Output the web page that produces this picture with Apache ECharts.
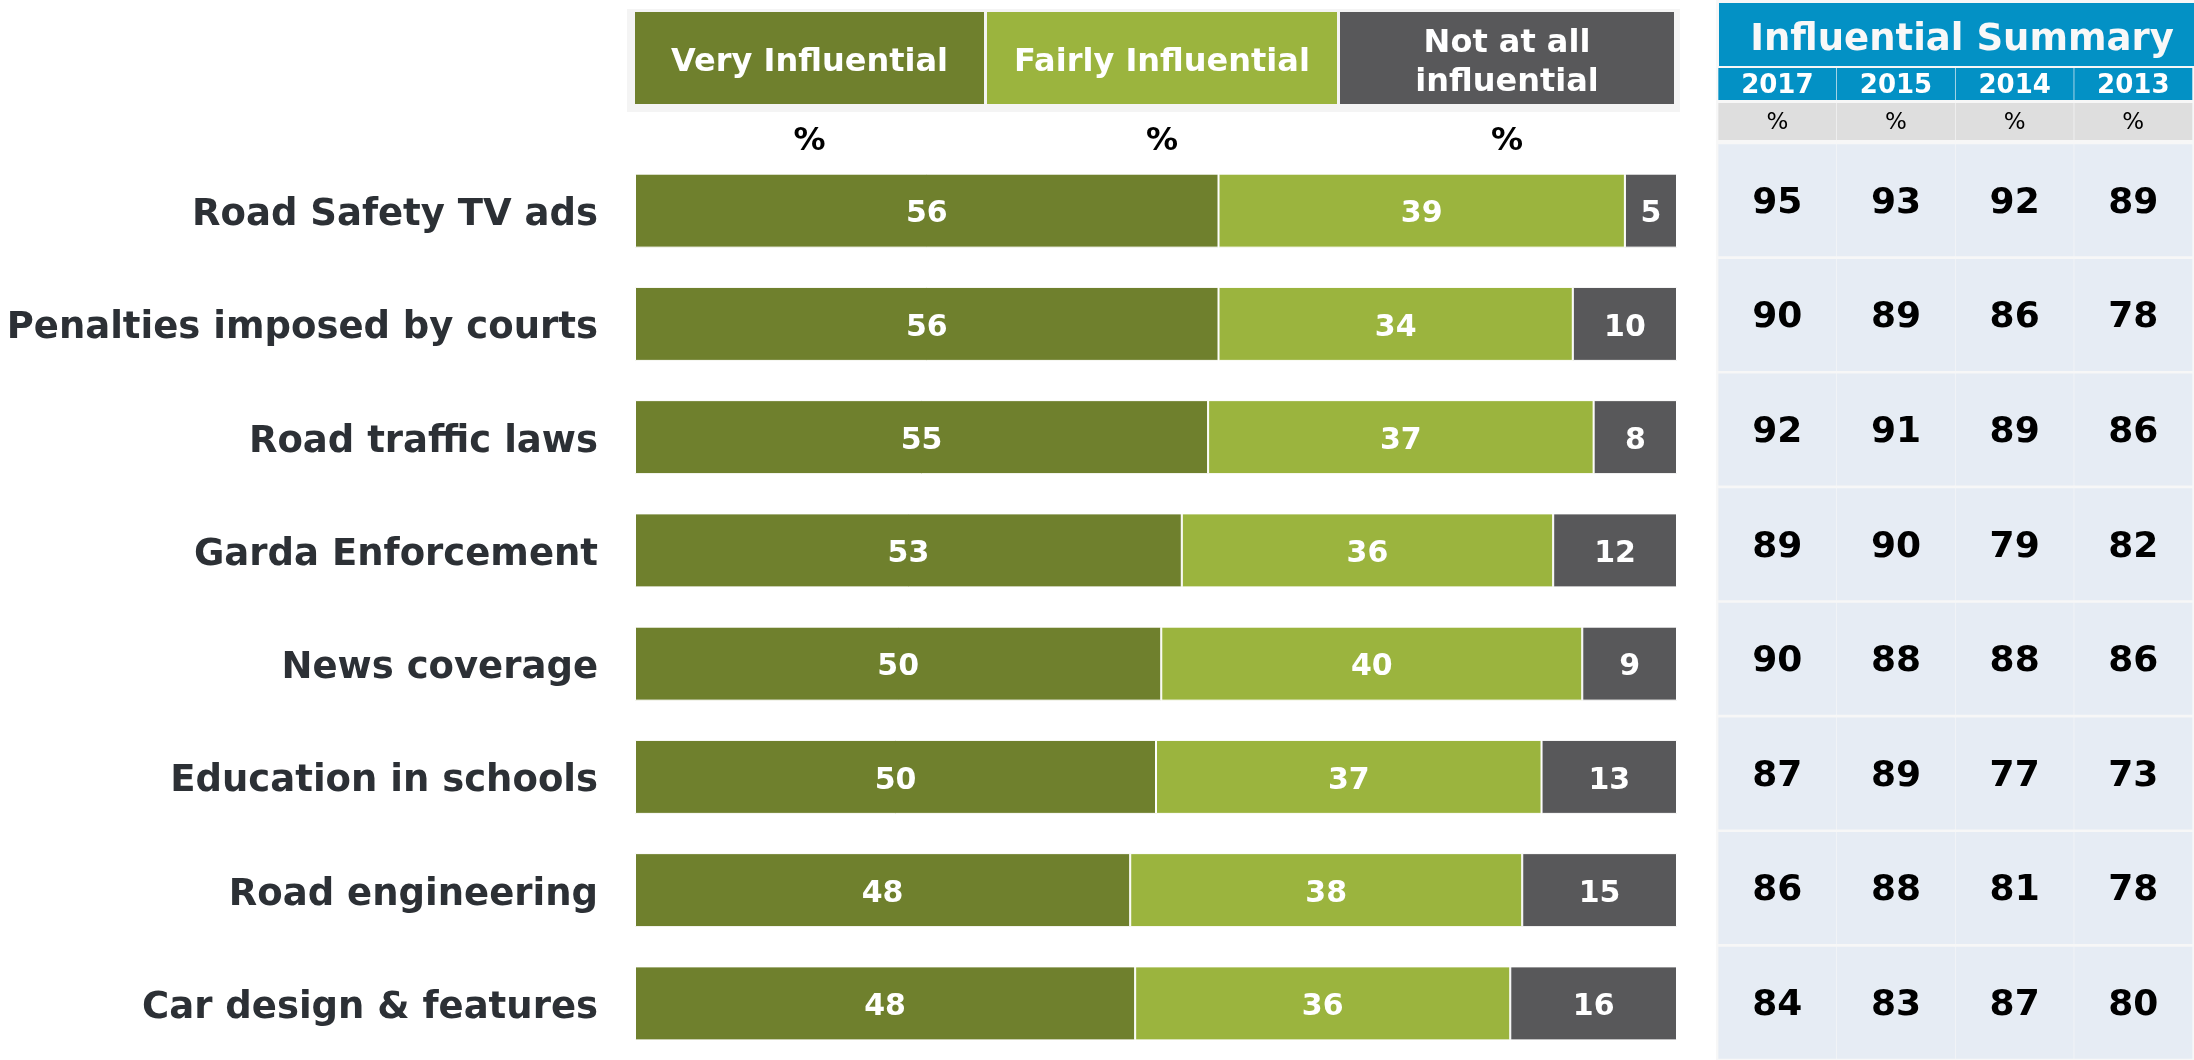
<!DOCTYPE html>
<html>
<head>
<meta charset="utf-8">
<script src="https://cdn.jsdelivr.net/npm/echarts@6/dist/echarts.min.js"></script>
<style>
html,body{margin:0;padding:0;background:#fff;}
#chart{width:2194px;height:1060px;}
</style>
</head>
<body>
<div id="chart"></div>
<script>
// ---- data ----
const categories = ['Road Safety TV ads','Penalties imposed by courts','Road traffic laws','Garda Enforcement','News coverage','Education in schools','Road engineering','Car design & features'];
const veryInfluential   = [56, 56, 55, 53, 50, 50, 48, 48];
const fairlyInfluential = [39, 34, 37, 36, 40, 37, 38, 36];
const notAtAll          = [5, 10, 8, 12, 9, 13, 15, 16];
const seriesNames = ['Very Influential', 'Fairly Influential', 'Not at all\ninfluential'];
const unitLabel = '%';
const summaryTitle = 'Influential Summary';
const years = ['2017', '2015', '2014', '2013'];
const summary2017 = [95, 90, 92, 89, 90, 87, 86, 84];
const summary2015 = [93, 89, 91, 90, 88, 89, 88, 83];
const summary2014 = [92, 86, 89, 79, 88, 77, 81, 87];
const summary2013 = [89, 78, 86, 82, 86, 73, 78, 80];

// ---- build ----
const FONT = '"DejaVu Sans", Verdana, sans-serif';
const colors = ['#6f802d', '#9bb43e', '#58585a'];
const raw = [veryInfluential, fairlyInfluential, notAtAll];
const totals = categories.map((_, i) => veryInfluential[i] + fairlyInfluential[i] + notAtAll[i]);

const barSeries = raw.map((arr, s) => ({
  type: 'bar',
  name: seriesNames[s],
  stack: 'total',
  xAxisIndex: 0, yAxisIndex: 0,
  barWidth: 74,
  itemStyle: { color: colors[s], borderColor: '#ffffff', borderWidth: 1 },
  label: {
    show: true, position: 'inside', color: '#ffffff', offset: [0, 4],
    fontFamily: FONT, fontWeight: 'bold', fontSize: 30,
    formatter: p => String(arr[p.dataIndex])
  },
  data: arr.map((v, i) => v / totals[i] * 100)
}));

const summaryArrays = [summary2017, summary2015, summary2014, summary2013];
const tableData = [];
summaryArrays.forEach((arr, c) => arr.forEach((v, r) => tableData.push([c, r, v])));

const tableSeries = {
  type: 'scatter',
  xAxisIndex: 1, yAxisIndex: 1,
  symbol: 'rect',
  symbolSize: [118, 112],
  itemStyle: { color: '#e6ecf4', opacity: 1 },
  label: {
    show: true, position: 'inside', color: '#000', offset: [0, 3],
    fontFamily: FONT, fontWeight: 'bold', fontSize: 36,
    formatter: p => String(p.value[2])
  },
  data: tableData,
  z: 3
};

// header graphics (legend boxes)
const legendBoxes = [[635, 349], [987, 350], [1340, 334]];
const graphics = [
  { type: 'rect', shape: { x: 627, y: 9, width: 1053, height: 103 }, style: { fill: '#f4f4f4' }, z: 0 },
  { type: 'rect', shape: { x: 1716, y: 0, width: 480, height: 1060 }, style: { fill: '#f7f7f7' }, z: 0 },
  { type: 'rect', shape: { x: 1719, y: 3, width: 480, height: 63 }, style: { fill: '#0391c5' }, z: 1 },
  { type: 'text', x: 1962, y: 40, style: { text: summaryTitle, fill: '#f8f8f8', font: 'bold 37px ' + FONT, textAlign: 'center', textVerticalAlign: 'middle' }, z: 2 }
];
legendBoxes.forEach(([x, w], i) => {
  graphics.push({ type: 'rect', shape: { x: x, y: 12, width: w, height: 92 }, style: { fill: colors[i] }, z: 1 });
  graphics.push({ type: 'text', x: x + w / 2, y: 63, style: { text: seriesNames[i], fill: '#ffffff', font: 'bold 32px ' + FONT, textAlign: 'center', textVerticalAlign: 'middle', lineHeight: 39 }, z: 2 });
  graphics.push({ type: 'text', x: x + w / 2, y: 142, style: { text: unitLabel, fill: '#000000', font: 'bold 32px ' + FONT, textAlign: 'center', textVerticalAlign: 'middle' }, z: 2 });
});

const chart = echarts.init(document.getElementById('chart'), null, { renderer: 'canvas' });
chart.setOption({
  animation: false,
  backgroundColor: '#ffffff',
  grid: [
    { left: 635, width: 1042, top: 154, height: 907, containLabel: false },
    { left: 1718, width: 485, top: 143, height: 924, containLabel: false }
  ],
  xAxis: [
    { type: 'value', gridIndex: 0, min: 0, max: 100, show: false },
    { type: 'category', gridIndex: 1, data: years, position: 'top',
      axisLine: { show: false }, axisTick: { show: false },
      axisLabel: { margin: 43, color: '#ffffff', fontFamily: FONT, fontWeight: 'bold', fontSize: 26,
        backgroundColor: '#0391c5', width: 118, height: 28, lineHeight: 28, padding: [4, 0, 0, 0], align: 'center' } },
    { type: 'category', gridIndex: 1, data: years, position: 'top',
      axisLine: { show: false }, axisTick: { show: false },
      axisLabel: { margin: 3, color: '#000000', fontFamily: FONT, fontSize: 23,
        formatter: () => unitLabel,
        backgroundColor: '#dedede', width: 118, height: 33, lineHeight: 33, padding: [4, 0, 0, 0], align: 'center' } }
  ],
  yAxis: [
    { type: 'category', gridIndex: 0, data: categories, inverse: true,
      axisLine: { show: false }, axisTick: { show: false },
      axisLabel: { margin: 37, color: '#2c3035', fontFamily: FONT, fontWeight: 'bold', fontSize: 37,
        verticalAlign: 'top', lineHeight: 10 } },
    { type: 'category', gridIndex: 1, data: categories, inverse: true, show: false }
  ],
  graphic: graphics,
  series: barSeries.concat([tableSeries])
});
</script>
</body>
</html>
